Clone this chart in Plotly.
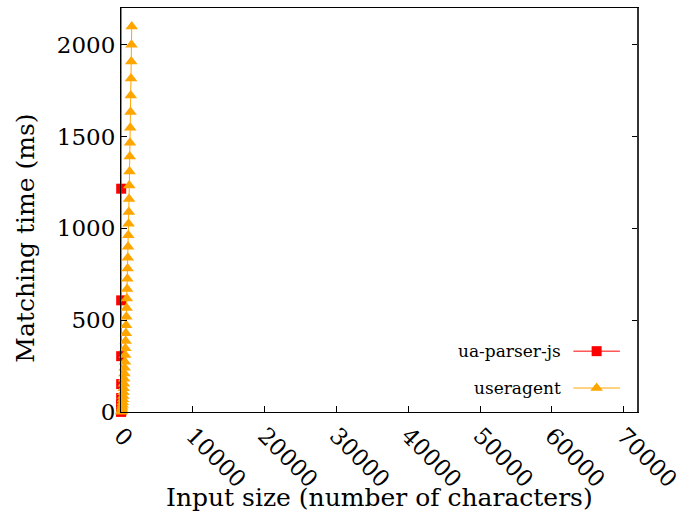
import plotly.graph_objects as go

# ---- data ----
ua_parser_size = [15, 16, 17, 18, 19, 20, 21, 22, 23, 24, 25, 26]
ua_parser_time = [1.2, 2.4, 4.8, 9.5, 19, 38, 76, 152, 304, 608, 1216, 2432]

useragent_size = [34, 68, 102, 136, 170, 204, 238, 272, 306, 340, 374, 408,
                  442, 476, 510, 544, 578, 612, 646, 680, 714, 748, 782, 816,
                  850, 884, 918, 952, 986, 1020, 1054, 1088, 1122, 1156, 1190,
                  1224, 1258, 1292, 1326, 1360, 1394, 1428, 1462, 1496]
useragent_time = [1, 4, 10, 17, 27, 39, 53, 69, 87, 107, 130, 154,
                  181, 210, 241, 274, 310, 347, 387, 429, 473, 519, 567, 618,
                  670, 725, 781, 840, 900, 962, 1025, 1089, 1160, 1234, 1310,
                  1392, 1466, 1548, 1634, 1724, 1816, 1908, 2000, 2099]

series_names = ["ua-parser-js", "useragent"]
x_ticks = [0, 10000, 20000, 30000, 40000, 50000, 60000, 70000]
y_ticks = [0, 500, 1000, 1500, 2000]
x_max = 72000
y_max = 2200

RED = "#ff0000"
ORANGE = "#ffa500"
FONT = "DejaVu Serif"

fig = go.Figure()

fig.add_trace(go.Scatter(x=ua_parser_size, y=ua_parser_time, mode="lines",
                         line=dict(color=RED, width=1), showlegend=False,
                         hoverinfo="skip"))
ua_in = [(x, y) for x, y in zip(ua_parser_size, ua_parser_time) if y <= y_max]
fig.add_trace(go.Scatter(x=[p[0] for p in ua_in], y=[p[1] for p in ua_in],
                         mode="markers", cliponaxis=False,
                         marker=dict(symbol="square", size=10, color=RED),
                         name=series_names[0], showlegend=False))

fig.add_trace(go.Scatter(x=useragent_size, y=useragent_time, mode="lines+markers",
                         cliponaxis=False,
                         line=dict(color=ORANGE, width=1),
                         marker=dict(symbol="triangle-up", size=11, color=ORANGE),
                         name=series_names[1], showlegend=False))

key_rows = [0.1506, 0.0593]
key_x0, key_x1, key_xm = 0.875, 0.965, 0.920
key_styles = [dict(symbol="square", size=10, color=RED),
              dict(symbol="triangle-up", size=11, color=ORANGE)]
key_colors = [RED, ORANGE]
for name, ry, mk, col in zip(series_names, key_rows, key_styles, key_colors):
    fig.add_trace(go.Scatter(x=[key_x0, key_x1], y=[ry, ry], mode="lines",
                             line=dict(color=col, width=1), xaxis="x2", yaxis="y2",
                             showlegend=False, hoverinfo="skip"))
    fig.add_trace(go.Scatter(x=[key_xm], y=[ry], mode="markers", marker=mk,
                             xaxis="x2", yaxis="y2", showlegend=False,
                             hoverinfo="skip", cliponaxis=False))
    fig.add_annotation(x=0.8555, y=ry, xref="paper", yref="paper",
                       text=name, showarrow=False, xanchor="right", yanchor="middle",
                       font=dict(family=FONT, size=17, color="black"))

fig.add_annotation(x=0.5, y=-0.212, xref="paper", yref="paper",
                   text="Input size (number of characters)", showarrow=False,
                   xanchor="center", yanchor="middle",
                   font=dict(family=FONT, size=25, color="black"))
fig.add_annotation(x=-0.185, y=0.43, xref="paper", yref="paper",
                   text="Matching time (ms)", showarrow=False, textangle=-90,
                   xanchor="center", yanchor="middle",
                   font=dict(family=FONT, size=25, color="black"))

fig.add_shape(type="line", xref="paper", yref="paper", x0=1, x1=1, y0=0, y1=1,
              line=dict(color="#333333", width=2))

fig.update_layout(
    width=689, height=520,
    margin=dict(l=121, r=49, t=7, b=108),
    plot_bgcolor="white", paper_bgcolor="white",
    font=dict(family=FONT, color="black"),
    xaxis=dict(range=[0, x_max], tickvals=x_ticks, ticktext=[str(v) for v in x_ticks],
               ticks="inside", ticklen=6, tickcolor="black", tickangle=45,
               showgrid=False, zeroline=False, showline=True, linecolor="black",
               linewidth=1, mirror=True,
               tickfont=dict(family=FONT, size=23, color="black")),
    yaxis=dict(range=[0, y_max], tickvals=y_ticks, ticktext=[str(v) for v in y_ticks],
               ticks="inside", ticklen=6, tickcolor="black",
               showgrid=False, zeroline=False, showline=True, linecolor="black",
               linewidth=1, mirror="ticks",
               tickfont=dict(family=FONT, size=23, color="black")),
    xaxis2=dict(overlaying="x", range=[0, 1], visible=False),
    yaxis2=dict(overlaying="y", range=[0, 1], visible=False),
    showlegend=False,
)

fig.write_html("out.html")
